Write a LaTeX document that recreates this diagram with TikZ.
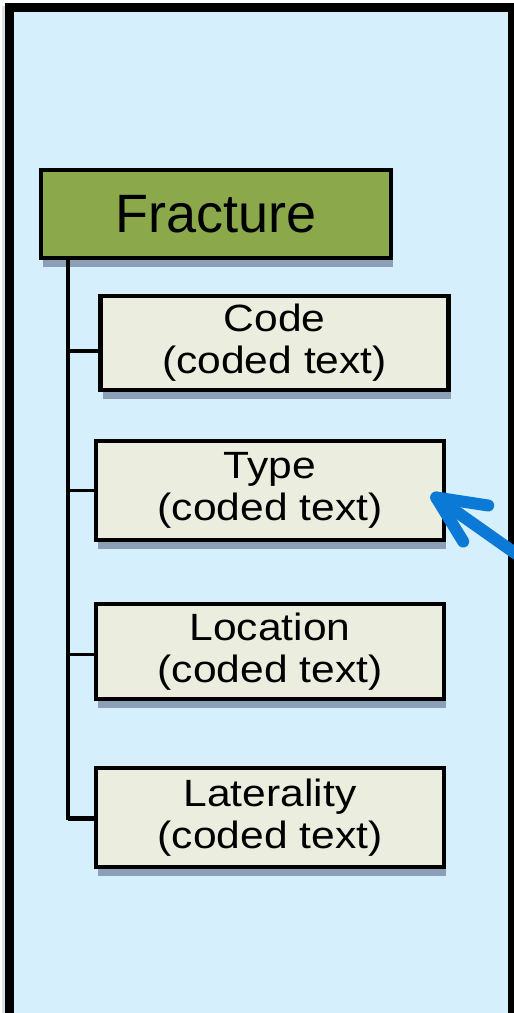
\documentclass[tikz,border=0pt]{standalone}
\usepackage{fontspec}
\setmainfont{Liberation Sans}
\newfontfamily\titlefont{Liberation Sans}
\newfontfamily\boxfont[FakeStretch=1.12]{Liberation Sans}
\usetikzlibrary{calc,shadows}

\definecolor{panelblue}{HTML}{D5EFFD}
\definecolor{rootgreen}{HTML}{8BA84A}
\definecolor{leafbeige}{HTML}{EBEEDE}
\definecolor{shadowgrey}{HTML}{8B9FB6}
\definecolor{pointerblue}{HTML}{0A7AD6}

\tikzset{
  rootbox/.style={draw=black, line width=2.2pt, fill=rootgreen,
    minimum width=175pt, minimum height=44pt, inner sep=0pt,
    font=\titlefont\fontsize{27}{30}\selectfont,
    drop shadow={shadow xshift=1pt, shadow yshift=-4.5pt, fill=shadowgrey, opacity=1}},
  leafbox/.style={draw=black, line width=2.2pt, fill=leafbeige,
    minimum width=174pt, inner sep=0pt, align=center,
    font=\boxfont\fontsize{19}{21}\selectfont,
    drop shadow={shadow xshift=1pt, shadow yshift=-4.5pt, fill=shadowgrey, opacity=1}},
  treeline/.style={draw=black, line width=2pt},
  branchline/.style={draw=black, line width=1.6pt},
  pointer/.style={draw=pointerblue, line width=6pt, line cap=round, line join=round}
}

\begin{document}
\begin{tikzpicture}[x=0.5pt, y=-0.5pt]
  \useasboundingbox (0,0) rectangle (514,1013);
  \clip (0,0) rectangle (514,1013);

  % page and framed panel
  \fill[white] (0,0) rectangle (514,1013);
  \fill[black!12] (2,6) rectangle (12,1013);
  \draw[line width=4.5pt, fill=panelblue] (9.5,7.5) rectangle (512.5,1030);

  % root node
  \node[rootbox] (frac) at (216,214) {Fracture};

  % child attributes
  \node[leafbox, minimum height=47pt]   (code) at (274.5,343)  {Code\\(coded text)};
  \node[leafbox, minimum height=49.5pt] (type) at (270,490.5)  {Type\\(coded text)};
  \node[leafbox, minimum height=47.5pt] (loc)  at (270,651.5)  {Location\\(coded text)};
  \node[leafbox, minimum height=49.5pt] (lat)  at (270,817.5)  {Laterality\\(coded text)};

  % tree connectors
  \coordinate (trunk) at ($(frac.south west)+(29,0)$);
  \draw[treeline] (trunk) |- (lat.west);
  \draw[branchline] (trunk |- {$(code.west)+(0,8)$}) -- ($(code.west)+(0,8)$);
  \draw[branchline] (trunk |- type.west) -- (type.west);
  \draw[branchline] (trunk |- {$(loc.west)+(0,3)$}) -- ($(loc.west)+(0,3)$);
  \draw[branchline] (trunk |- {$(lat.west)+(0,2)$}) -- ($(lat.west)+(0,2)$);

  % pointer arrow towards the Type attribute
  \coordinate (tip) at ($(type.east)+(-10,7)$);
  \coordinate (tail) at (522,558);
  \draw[pointer] (tail) -- (tip);
  \draw[pointer] ($(tip)+(52,8)$) -- (tip) -- ($(tip)+(27,44)$);
\end{tikzpicture}
\end{document}
